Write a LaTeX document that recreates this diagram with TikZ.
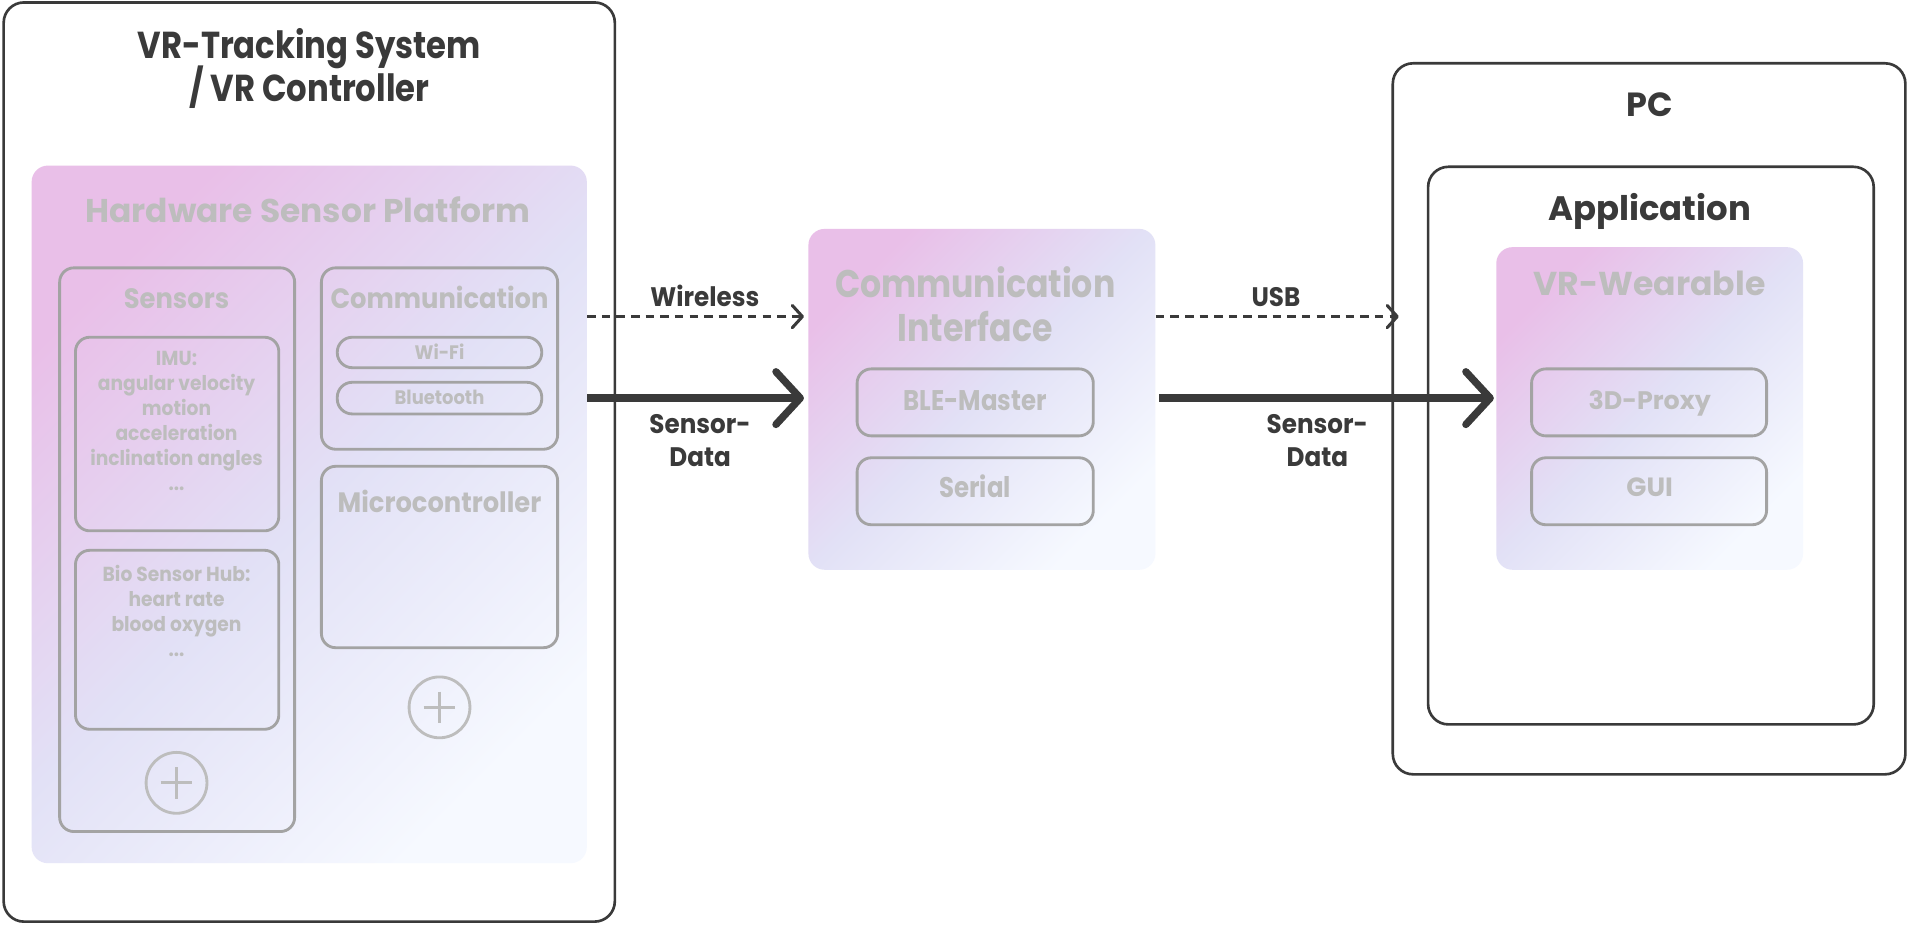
\documentclass[tikz,border=0pt]{standalone}
\usepackage{fontspec}
\setmainfont{Poppins}
\newfontfamily\popn{Poppins}[FakeStretch=0.92]
\newfontfamily\popm{Poppins}[FakeStretch=0.86]
\usetikzlibrary{arrows.meta}
\definecolor{dk}{HTML}{3A3A3A}
\definecolor{gy}{HTML}{A3A3A3}
\definecolor{gt}{HTML}{BDBDBD}
\definecolor{gpink}{HTML}{E9BFE8}
\definecolor{glav}{HTML}{E2E1F6}
\definecolor{gwhite}{HTML}{F6F9FF}
\newcommand\bx[6]{\node[#6, minimum width={(#4-#2)*0.6pt}, minimum height={(#5-#3)*0.6pt}] (#1) at ({(#2+#4)/2},{(#3+#5)/2}) {};}
\newcommand\fs[2]{\fontsize{#1pt}{#2pt}\selectfont\lineskiplimit=-100pt}
\tikzset{
  dkbox/.style={draw=dk, line width=1.3pt, rounded corners=10pt, inner sep=0pt},
  gybox/.style={draw=gy, line width=1.4pt, rounded corners=7pt, inner sep=0pt},
  pill/.style={draw=gy, line width=1.4pt, rounded corners=7.4pt, inner sep=0pt},
  grad/.style={draw=none, top color=gpink, bottom color=gwhite, middle color=glav, shading angle=45, rounded corners=8pt, inner sep=0pt},
  plusc/.style={draw=gt, line width=1.4pt, circle, minimum size=30pt, inner sep=0pt},
  lbl/.style={inner sep=0pt, align=center},
  dkt/.style={lbl, text=dk},
  gyt/.style={lbl, text=gt},
  dasharrow/.style={draw=dk, line width=1.5pt, dash pattern=on 4.2pt off 3pt, -{Straight Barb[length=5pt,width=11pt,round]}},
  thickarrow/.style={draw=dk, line width=3.6pt, -{Straight Barb[length=12pt,width=26pt,round]}},
}
\begin{document}
\begin{tikzpicture}[x=0.6pt,y=-0.6pt]
\useasboundingbox[fill=white] (0,0) rectangle (1568,760);
% left system
\bx{sys}{3}{2}{505}{757}{dkbox}
\bx{hw}{26}{136}{482}{709}{grad}
\bx{sens}{49}{220}{242}{683}{gybox}
\bx{imu}{62}{277}{229}{436}{gybox}
\bx{bio}{62}{452}{229}{599}{gybox}
\bx{comm}{264}{220}{458}{369}{gybox}
\bx{wifi}{277}{277}{445}{302}{pill}
\bx{bt}{277}{314}{445}{340}{pill}
\bx{mcu}{264}{383}{458}{532}{gybox}
\node[plusc] (p1) at (145,643) {};
\node[plusc] (p2) at (361,581) {};
\draw[gt, line width=1.4pt] (p1.center) ++(-13,0) -- ++(26,0) (p1.center) ++(0,-13) -- ++(0,26);
\draw[gt, line width=1.4pt] (p2.center) ++(-13,0) -- ++(26,0) (p2.center) ++(0,-13) -- ++(0,26);
\node[dkt, anchor=north, font=\popm\bfseries\fs{18.5}{21}] (tsys) at (254,23) {VR-Tracking System\\/ VR Controller};
\node[gyt, anchor=base, font=\bfseries\fs{16.2}{20}] (thw) at (253,183) {Hardware Sensor Platform};
\node[gyt, anchor=base, font=\popn\bfseries\fs{13.8}{16}] (tsens) at (145,253) {Sensors};
\node[gyt, anchor=base, font=\popn\bfseries\fs{13.8}{16}] (tcomm) at (361,253) {Communication};
\node[gyt, anchor=base, font=\popn\bfseries\fs{13.8}{16}] (tmcu) at (361,421) {Microcontroller};
\node[gyt, anchor=base, font=\popn\bfseries\fs{9.6}{11}] (twifi) at (361,295.5) {Wi-Fi};
\node[gyt, anchor=base, font=\popn\bfseries\fs{9.6}{11}] (tbt) at (361,332.5) {Bluetooth};
\node[gyt, anchor=north, font=\popn\bfseries\fs{10}{12.3}] (timu) at (145,288) {IMU:\\angular velocity\\motion\\acceleration\\inclination angles\\...};
\node[gyt, anchor=north, font=\popn\bfseries\fs{10}{12.3}] (tbio) at (145,464) {Bio Sensor Hub:\\heart rate\\blood oxygen\\...};
% communication interface
\bx{ci}{664}{188}{949}{468}{grad}
\bx{ble}{704}{303}{898}{358}{gybox}
\bx{ser}{704}{376}{898}{431}{gybox}
\node[gyt, anchor=north, font=\popm\bfseries\fs{19}{21.6}] (tci) at (801,219) {Communication\\Interface};
\node[gyt, anchor=base, font=\popm\bfseries\fs{14}{16}] (tble) at (801,337) {BLE-Master};
\node[gyt, anchor=base, font=\popm\bfseries\fs{14}{16}] (tser) at (801,409) {Serial};
% PC
\bx{pc}{1144}{52}{1565}{636}{dkbox}
\bx{app}{1173}{137}{1539}{595}{dkbox}
\bx{vw}{1229}{203}{1481}{468}{grad}
\bx{prx}{1258}{303}{1451}{358}{gybox}
\bx{gui}{1258}{376}{1451}{431}{gybox}
\node[dkt, anchor=base, font=\bfseries\fs{16.5}{20}] (tpc) at (1355,96) {PC};
\node[dkt, anchor=base, font=\bfseries\fs{16.7}{20}] (tapp) at (1355,181) {Application};
\node[gyt, anchor=base, font=\bfseries\fs{16.3}{20}] (tvw) at (1355,243) {VR-Wearable};
\node[gyt, anchor=base, font=\bfseries\fs{12.5}{15}] (tprx) at (1355,336) {3D-Proxy};
\node[gyt, anchor=base, font=\bfseries\fs{13}{15}] (tgui) at (1355,408) {GUI};
% connectors
\coordinate (yw) at (0,260);
\coordinate (yd) at (0,327);
\draw[dasharrow, shorten >=2pt] (hw.east |- yw) -- (ci.west |- yw);
\draw[thickarrow, shorten >=2pt] (hw.east |- yd) -- (ci.west |- yd);
\draw[dasharrow, shorten >=-3.6pt] (ci.east |- yw) -- (pc.west |- yw);
\draw[thickarrow, shorten <=1.8pt, shorten >=1pt] (ci.east |- yd) -- (vw.west |- yd);
\node[dkt, anchor=base, font=\popn\bfseries\fs{13.2}{16}] (lw) at (579,252) {Wireless};
\node[dkt, anchor=north, font=\popn\bfseries\fs{13.2}{16.5}] (ld1) at (575,340) {Sensor-\\Data};
\node[dkt, anchor=base, font=\popn\bfseries\fs{13.2}{16}] (lu) at (1048,252) {USB};
\node[dkt, anchor=north, font=\popn\bfseries\fs{13.2}{16.5}] (ld2) at (1082,340) {Sensor-\\Data};
\end{tikzpicture}
\end{document}
